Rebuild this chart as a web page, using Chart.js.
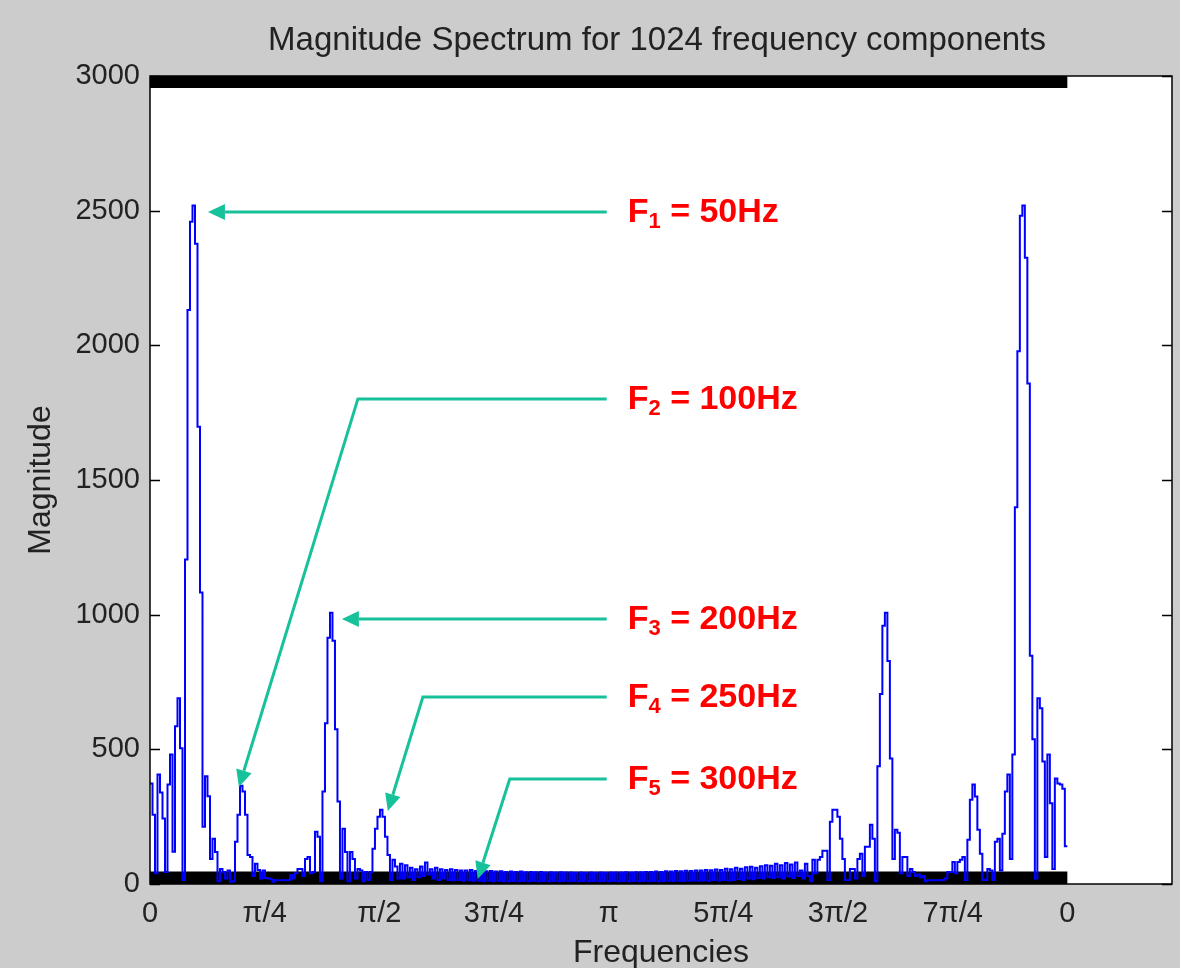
<!DOCTYPE html>
<html lang="en">
<head>
  <meta charset="UTF-8" />
  <title>Magnitude Spectrum</title>
  <script src="https://cdn.jsdelivr.net/npm/chart.js"></script>
  <style>
    html, body { margin: 0; padding: 0; background: #cccccc; }
    #wrap { width: 1180px; height: 968px; }
  </style>
</head>
<body>
  <div id="wrap"><canvas id="spectrum" width="1180" height="968"></canvas></div>

  <script>
    // magnitude of each step, left to right over 0..2pi
    const magnitude = [
      373, 257, 40, 407, 340, 243, 45, 369, 481, 120,
      586, 690, 504, 15, 1205, 2131, 2459, 2519, 2377, 1698,
      1082, 213, 400, 326, 93, 168, 119, 10, 56, 45,
      20, 50, 8, 10, 157, 257, 365, 343, 257, 108,
      100, 30, 75, 52, 20, 50, 22, 20, 18, 8,
      14, 14, 14, 14, 14, 15, 33, 20, 40, 56,
      56, 30, 93, 100, 40, 45, 194, 175, 10, 343,
      597, 914, 1007, 903, 575, 306, 20, 205, 119, 10,
      119, 93, 20, 56, 50, 10, 45, 15, 45, 131,
      205, 250, 276, 250, 175, 108, 15, 90, 65, 20,
      75, 20, 70, 25, 60, 15, 55, 25, 65, 30,
      80, 35, 55, 20, 60, 15, 55, 20, 52, 15,
      55, 14, 52, 15, 50, 12, 50, 14, 52, 12,
      48, 12, 50, 10, 47, 12, 48, 10, 46, 12,
      47, 10, 45, 10, 46, 11, 45, 10, 46, 11,
      44, 10, 45, 11, 44, 10, 45, 11, 43, 10,
      44, 11, 43, 10, 44, 11, 43, 10, 43, 11,
      42, 10, 43, 11, 42, 10, 43, 11, 42, 10,
      43, 11, 42, 10, 43, 11, 43, 10, 43, 11,
      44, 10, 43, 11, 44, 10, 44, 11, 45, 10,
      45, 11, 46, 10, 45, 11, 47, 12, 46, 11,
      48, 12, 47, 11, 49, 12, 48, 13, 50, 12,
      50, 13, 52, 12, 51, 15, 54, 13, 52, 15,
      57, 13, 55, 15, 60, 18, 57, 15, 62, 20,
      64, 18, 60, 22, 66, 20, 70, 25, 68, 22,
      75, 25, 70, 20, 78, 28, 72, 22, 80, 30,
      50, 20, 75, 30, 10, 90, 40, 90, 100, 123,
      123, 15, 231, 276, 276, 250, 168, 93, 15, 15,
      56, 56, 20, 93, 112, 30, 138, 138, 220, 168,
      10, 437, 705, 959, 1007, 828, 466, 93, 201, 190,
      40, 100, 100, 30, 56, 45, 30, 35, 25, 30,
      10, 14, 14, 14, 14, 14, 14, 15, 20, 45,
      45, 82, 40, 82, 90, 100, 15, 164, 313, 369,
      325, 201, 112, 15, 15, 56, 50, 15, 157, 168,
      50, 187, 343, 407, 93, 481, 1399, 1978, 2481, 2519,
      2325, 1858, 847, 537, 20, 690, 653, 455, 100, 481,
      300, 56, 392, 373, 369, 354, 140
    ];

    const xTickLabels = ['0', 'π/4', 'π/2', '3π/4', 'π', '5π/4', '3π/2', '7π/4', '0'];
    const yTicks = [0, 500, 1000, 1500, 2000, 2500, 3000];
    const bandLevels = [22, 2980]; // the two thick black lines

    // arrows: label level, tip and (optional) bend point
    const annoSub = ['1', '2', '3', '4', '5'];
    const annoHz = ['50Hz', '100Hz', '200Hz', '250Hz', '300Hz'];
    const annoLevel = [2495, 1801, 984, 694, 390];
    const annoTipX = [0.397, 0.609, 1.314, 1.629, 2.245];
    const annoTipY = [2495, 360, 984, 271, 19];
    const annoBendX = [null, 1.424, null, 1.869, 2.464];
    const leaderStartX = 3.128;
    const labelStartX = 3.272;

    const FONT = "'Liberation Sans', Arial, sans-serif";
    const step = 2 * Math.PI / magnitude.length;

    const spectrumPts = magnitude.map((m, i) => ({ x: i * step, y: m }));
    spectrumPts.push({ x: 2 * Math.PI, y: magnitude[magnitude.length - 1] });

    const bandSets = bandLevels.map(lv => ({
      data: [{ x: 0, y: lv }, { x: 2 * Math.PI, y: lv }],
      borderColor: '#000',
      borderWidth: 13,
      borderCapStyle: 'butt',
      pointRadius: 0
    }));

    const frame = {
      id: 'frame',
      beforeDatasetsDraw(chart) {
        const { ctx, chartArea: a } = chart;
        ctx.save();
        ctx.fillStyle = '#ffffff';
        ctx.fillRect(a.left, a.top, a.right - a.left, a.bottom - a.top);
        ctx.restore();
      },
      afterDatasetsDraw(chart) {
        const { ctx, chartArea: a, scales: { x, y } } = chart;
        ctx.save();
        ctx.strokeStyle = '#000';
        ctx.lineWidth = 1.5;
        ctx.strokeRect(a.left, a.top, a.right - a.left, a.bottom - a.top);
        ctx.beginPath();
        yTicks.forEach(v => {
          const py = Math.round(y.getPixelForValue(v)) + 0.5;
          ctx.moveTo(a.left, py); ctx.lineTo(a.left + 10, py);
          ctx.moveTo(a.right, py); ctx.lineTo(a.right - 10, py);
        });
        ctx.stroke();

        // title, centred on the plot box
        ctx.fillStyle = '#222';
        ctx.font = '33px ' + FONT;
        ctx.textAlign = 'center';
        ctx.textBaseline = 'middle';
        ctx.fillText('Magnitude Spectrum for 1024 frequency components', (a.left + a.right) / 2 - 4, 41);
        ctx.restore();
      }
    };

    const arrows = {
      id: 'arrows',
      afterDatasetsDraw(chart) {
        const { ctx, scales: { x, y } } = chart;
        ctx.save();
        const green = '#17c29a';
        annoLevel.forEach((lv, k) => {
          const py = y.getPixelForValue(lv);
          const sx = x.getPixelForValue(leaderStartX);
          const tx = x.getPixelForValue(annoTipX[k]);
          const ty = y.getPixelForValue(annoTipY[k]);
          const pts = [[sx, py]];
          if (annoBendX[k] !== null) pts.push([x.getPixelForValue(annoBendX[k]), py]);
          const prev = pts[pts.length - 1];
          const ang = Math.atan2(ty - prev[1], tx - prev[0]);
          const head = 17;
          // shaft stops at the base of the head
          pts.push([tx - Math.cos(ang) * head, ty - Math.sin(ang) * head]);

          ctx.strokeStyle = green;
          ctx.lineWidth = 3;
          ctx.beginPath();
          ctx.moveTo(pts[0][0], pts[0][1]);
          for (let i = 1; i < pts.length; i++) ctx.lineTo(pts[i][0], pts[i][1]);
          ctx.stroke();

          ctx.fillStyle = green;
          ctx.beginPath();
          ctx.moveTo(tx, ty);
          ctx.lineTo(tx - Math.cos(ang) * head - Math.sin(ang) * 8, ty - Math.sin(ang) * head + Math.cos(ang) * 8);
          ctx.lineTo(tx - Math.cos(ang) * head + Math.sin(ang) * 8, ty - Math.sin(ang) * head - Math.cos(ang) * 8);
          ctx.closePath();
          ctx.fill();

          // red label  F_k = ...Hz
          let lx = x.getPixelForValue(labelStartX);
          const ly = py + 1;
          ctx.fillStyle = '#ff0000';
          ctx.textAlign = 'left';
          ctx.textBaseline = 'middle';
          ctx.font = 'bold 34px ' + FONT;
          ctx.fillText('F', lx, ly);
          lx += ctx.measureText('F').width;
          ctx.font = 'bold 22px ' + FONT;
          ctx.fillText(annoSub[k], lx, ly + 9);
          lx += ctx.measureText(annoSub[k]).width;
          ctx.font = 'bold 34px ' + FONT;
          ctx.fillText(' = ' + annoHz[k], lx, ly);
        });
        ctx.restore();
      }
    };

    new Chart(document.getElementById('spectrum'), {
      type: 'line',
      data: {
        datasets: [
          {
            data: spectrumPts,
            borderColor: '#0000ff',
            borderWidth: 2,
            stepped: 'before',
            pointRadius: 0
          },
          ...bandSets
        ]
      },
      options: {
        responsive: false,
        animation: false,
        layout: { padding: { top: 76, right: 8, bottom: 0, left: 0 } },
        plugins: {
          legend: { display: false },
          tooltip: { enabled: false }
        },
        scales: {
          x: {
            type: 'linear',
            min: 0,
            max: 7.0,
            grid: { display: false, drawTicks: false },
            border: { display: false },
            afterBuildTicks: s => { s.ticks = xTickLabels.map((_, k) => ({ value: k * Math.PI / 4 })); },
            afterFit: s => { s.height = 84; },
            ticks: {
              autoSkip: false,
              maxRotation: 0,
              padding: 13,
              color: '#222',
              font: { family: FONT, size: 29 },
              callback: (v, i) => xTickLabels[i]
            },
            title: {
              display: true,
              text: 'Frequencies',
              color: '#222',
              font: { family: FONT, size: 32 },
              padding: { top: 0, bottom: -4 }
            }
          },
          y: {
            min: 0,
            max: 3000,
            grid: { display: false, drawTicks: false },
            border: { display: false },
            afterBuildTicks: s => { s.ticks = yTicks.map(v => ({ value: v })); },
            afterFit: s => { s.width = 150; },
            ticks: {
              padding: 10,
              color: '#222',
              font: { family: FONT, size: 29 },
              callback: v => String(v)
            },
            title: {
              display: true,
              text: 'Magnitude',
              color: '#222',
              font: { family: FONT, size: 32 },
              padding: { top: 22, bottom: 0 }
            }
          }
        }
      },
      plugins: [frame, arrows]
    });
  </script>
</body>
</html>
